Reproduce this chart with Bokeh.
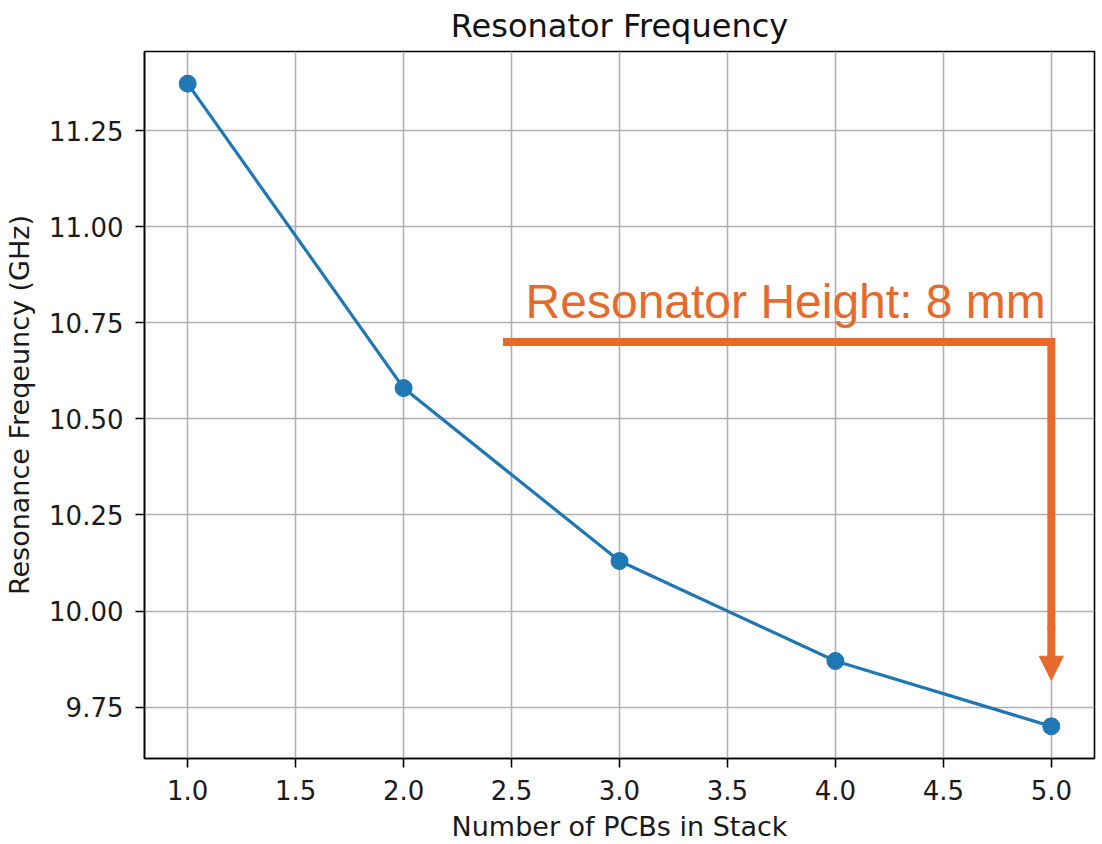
from bokeh.plotting import figure
from bokeh.embed import file_html
from bokeh.resources import INLINE
from bokeh.models import FixedTicker, NumeralTickFormatter, Range1d, Label, Arrow, NormalHead

# Data
pcbs = [1.0, 2.0, 3.0, 4.0, 5.0]
freq_ghz = [11.372, 10.58, 10.13, 9.87, 9.70]
x_ticks = [1.0, 1.5, 2.0, 2.5, 3.0, 3.5, 4.0, 4.5, 5.0]
y_ticks = [9.75, 10.00, 10.25, 10.50, 10.75, 11.00, 11.25]

title_text = "Resonator Frequency"
x_label = "Number of PCBs in Stack"
y_label = "Resonance Freqeuncy (GHz)"

# Annotation (data coordinates)
note_text = "Resonator Height: 8 mm"
note_x = 2.565
note_y = 10.805
bracket_x = [2.46, 5.0, 5.0]
bracket_y = [10.70, 10.70, 9.95]
arrow_tip_y = 9.82

BLUE = "#1f77b4"
ORANGE = "#E66A2C"
FONT = "DejaVu Sans"

p = figure(width=1098, height=844, output_backend="svg", toolbar_location=None,
           x_range=Range1d(0.8, 5.2), y_range=Range1d(9.6164, 11.4556),
           min_border_left=144, min_border_right=4, min_border_top=51, min_border_bottom=70)

p.title.text = title_text
p.title.align = "center"
p.title.vertical_align = "top"
p.title.text_font = FONT
p.title.text_font_size = "32px"
p.title.text_font_style = "normal"
p.title.text_color = "#111111"
p.title.offset = 0
p.title.standoff = 10

p.outline_line_color = "black"
p.outline_line_width = 1.6
p.background_fill_color = "white"
p.border_fill_color = "white"

for ax in (p.xaxis[0], p.yaxis[0]):
    ax.axis_line_color = "black"
    ax.axis_line_width = 1.6
    ax.major_tick_line_color = "black"
    ax.major_tick_line_width = 1.6
    ax.major_tick_out = 9
    ax.major_tick_in = 0
    ax.minor_tick_line_color = None
    ax.major_label_text_font = FONT
    ax.major_label_text_font_size = "26px"
    ax.major_label_text_color = "#1a1a1a"
    ax.axis_label_text_font = FONT
    ax.axis_label_text_font_size = "27px"
    ax.axis_label_text_font_style = "normal"
    ax.axis_label_text_color = "#1a1a1a"

p.xaxis[0].ticker = FixedTicker(ticks=x_ticks)
p.xaxis[0].formatter = NumeralTickFormatter(format="0.0")
p.xaxis[0].axis_label = x_label
p.xaxis[0].major_label_standoff = 12
p.xaxis[0].axis_label_standoff = 8

p.yaxis[0].ticker = FixedTicker(ticks=y_ticks)
p.yaxis[0].formatter = NumeralTickFormatter(format="0.00")
p.yaxis[0].axis_label = y_label
p.yaxis[0].major_label_standoff = 12
p.yaxis[0].axis_label_standoff = 11

for g in (p.xgrid[0], p.ygrid[0]):
    g.grid_line_color = "#b0b0b0"
    g.grid_line_width = 1.6
    g.grid_line_alpha = 1.0
p.xgrid[0].ticker = FixedTicker(ticks=x_ticks)
p.ygrid[0].ticker = FixedTicker(ticks=y_ticks)

p.line(pcbs, freq_ghz, line_color=BLUE, line_width=3.2)
p.scatter(pcbs, freq_ghz, size=17, fill_color=BLUE, line_color=BLUE)

# Annotation
p.line(bracket_x, bracket_y, line_color=ORANGE, line_width=8, line_join="miter")
p.add_layout(Arrow(end=NormalHead(size=24, fill_color=ORANGE, line_color=ORANGE, line_width=1),
                   x_start=bracket_x[-1], y_start=bracket_y[-1] + 0.01,
                   x_end=bracket_x[-1], y_end=arrow_tip_y,
                   line_color=ORANGE, line_width=8))
p.add_layout(Label(x=note_x, y=note_y, text=note_text, text_color=ORANGE,
                   text_font="Liberation Sans", text_font_size="48px",
                   text_baseline="alphabetic", text_align="left"))

open("out.html", "w").write(file_html(p, INLINE))
